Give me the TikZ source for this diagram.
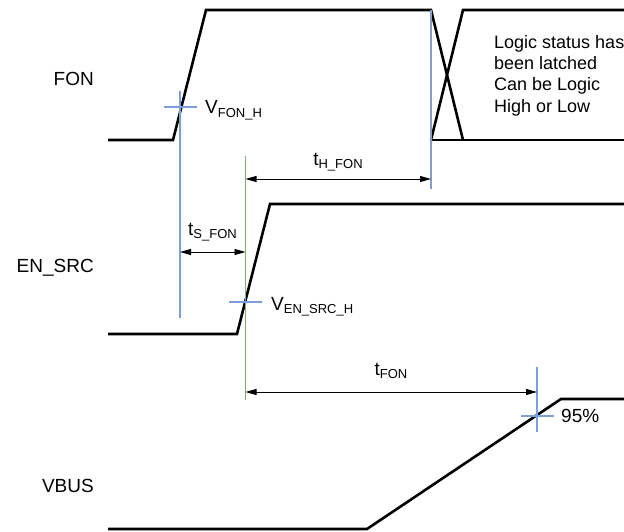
\documentclass[tikz,border=0pt]{standalone}
\usepackage{fontspec}
\setmainfont{Liberation Sans}
\usetikzlibrary{arrows.meta,calc}
\definecolor{markblue}{HTML}{7D9FD9}
\newcommand{\lowtxt}[1]{\raisebox{-3.5pt}{\fontsize{13}{13}\selectfont #1}}
\tikzset{
    every node/.style={font=\fontsize{19}{21.5}\selectfont,inner sep=0pt},
    wave/.style={line width=2.6pt,line join=miter},
    marker/.style={draw=markblue,line width=1.3pt},
    timing/.style={{Triangle[length=11pt,width=6pt]}-{Triangle[length=11pt,width=6pt]},line width=0.9pt},
    signame/.style={anchor=base east},
    timelbl/.style={anchor=base},
    levellbl/.style={anchor=base west},
    note/.style={anchor=north west,align=left,font=\fontsize{18}{21.3}\selectfont}
}
\begin{document}
\begin{tikzpicture}[x=1pt,y=-1pt]
\useasboundingbox (0,0) rectangle (624,532);
% signal names
\node[signame] (fon) at (94,86) {FON};
\node[signame] (ensrc) at (94,272) {EN\_SRC};
\node[signame] (vbus) at (94,492) {VBUS};
% waveforms
\draw[wave] (108,140) -- (173,140) -- (206,10) -- (431,10) -- (463,140);
\draw[wave] (431,140) -- (624,140);
\draw[wave] (431,140) -- (463,10) -- (624,10);
\draw[wave] (108,334) -- (237,334) -- (270,204) -- (624,204);
\draw[wave] (108,529) -- (367,529) -- (561,399) -- (624,399);
% threshold markers
\coordinate (fonh) at (180,107);
\coordinate (latch) at (431,10);
\coordinate (srch) at (245.5,302);
\coordinate (vbush) at (537,416);
\draw[marker] (fonh |- 0,91) -- (fonh |- 0,318);
\draw[marker] ($(fonh)+(-16,0)$) -- ($(fonh)+(17,0)$);
\draw[marker] (latch) -- (latch |- 0,189);
\draw[marker] (srch |- 0,156) -- (srch |- 0,400);
\draw[marker] ($(srch)+(-16.5,0)$) -- ($(srch)+(16.5,0)$);
\draw[marker] (vbush |- 0,367) -- (vbush |- 0,432);
\draw[marker] ($(vbush)+(-16,0)$) -- ($(vbush)+(17,0)$);
% timings
\coordinate (hfona) at (srch |- 0,179);
\coordinate (hfonb) at (latch |- 0,179);
\coordinate (sfona) at (fonh |- 0,252);
\coordinate (sfonb) at (srch |- 0,252);
\coordinate (fona) at (srch |- 0,392);
\coordinate (fonb) at (vbush |- 0,392);
\draw[timing] (hfona) -- (hfonb);
\draw[timing] (sfona) -- (sfonb);
\draw[timing] (fona) -- (fonb);
\node[timelbl] (thfon) at (338,165) {t\lowtxt{H\_FON}};
\node[timelbl] (tsfon) at (212.5,235) {t\lowtxt{S\_FON}};
\node[timelbl] (tfon) at (391,375) {t\lowtxt{FON}};
% levels
\node[levellbl] (vfonh) at (205,114) {V\lowtxt{FON\_H}};
\node[levellbl] (vsrch) at (271,310) {V\lowtxt{EN\_SRC\_H}};
\node[levellbl] (pct) at (561,422) {95\%};
\node[note] (latched) at (494,35) {Logic status has\\been latched\\Can be Logic\\High or Low};
\end{tikzpicture}
\end{document}
